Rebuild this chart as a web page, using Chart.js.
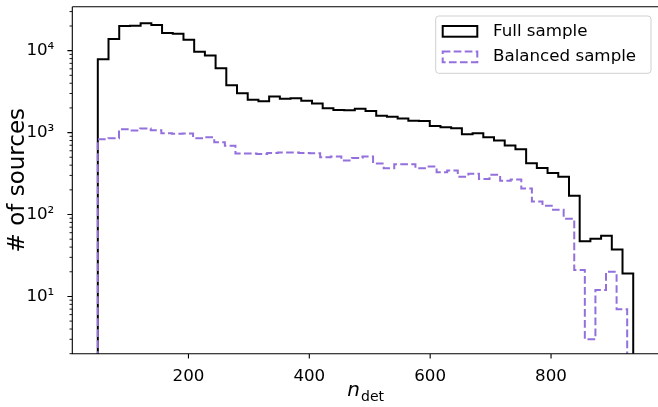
<!DOCTYPE html>
<html><head><meta charset="utf-8">
<script src="https://cdn.jsdelivr.net/npm/chart.js@4.4.0/dist/chart.umd.min.js"></script>
<style>html,body{margin:0;padding:0;background:#fff}#wrap{width:658px;height:407px;position:relative}</style>
</head><body><div id="wrap"><canvas id="c"></canvas></div>
<script>
// ---- data ----
const fullCounts = [7850, 13900, 20000, 20200, 21600, 20500, 16400, 16100, 13600, 9700,
  8700, 6100, 3780, 3020, 2520, 2410, 2750, 2580, 2620, 2440,
  2260, 1980, 1880, 1870, 1950, 1840, 1610, 1560, 1490, 1390,
  1380, 1200, 1163, 1130, 955, 980, 879, 799, 694, 627,
  423, 370, 322, 288, 169, 47, 50.6, 55, 37.5, 19];
const balancedCounts = [831, 855, 1100, 1060, 1120, 1070, 983, 965, 975, 855,
  880, 763, 689, 555, 555, 548, 565, 570, 570, 565,
  560, 501, 510, 456, 488, 510, 419, 368, 412, 412,
  368, 385, 329, 344, 290, 314, 272, 305, 258, 267,
  208, 144, 128, 114, 89, 21, 3, 12, 20, 7];
const fullBinRange = [50, 936];
const balancedBinRange = [50, 926];
const seriesLabels = ['Full sample', 'Balanced sample'];
const xTickValues = [200, 400, 600, 800];
const yTickValues = [10, 100, 1000, 10000];
const yAxisTitle = '# of sources';
const xAxisTitleMain = 'n';
const xAxisTitleSub = 'det';

const FONT = 'DejaVu Sans';
const COLORS = ['#000000', '#9370DB'];

function stepPoints(counts, range, floor) {
  const n = counts.length, w = (range[1] - range[0]) / n;
  const pts = [{x: range[0], y: floor}];
  counts.forEach((c, i) => {
    pts.push({x: range[0] + i * w, y: c});
    pts.push({x: range[0] + (i + 1) * w, y: c});
  });
  pts.push({x: range[1], y: floor});
  return pts;
}
const SUP = {'0':'⁰','1':'¹','2':'²','3':'³','4':'⁴','5':'⁵'};
function powLabel(v) {
  const e = String(Math.round(Math.log10(v)));
  return '10' + e.split('').map(ch => SUP[ch]).join('');
}

const framePlugin = {
  id: 'frame',
  afterDraw(chart) {
    const {ctx, chartArea: a, scales: {x, y}} = chart;
    ctx.save();
    ctx.strokeStyle = '#000';
    ctx.lineWidth = 1.1;
    ctx.beginPath();
    ctx.moveTo(a.left, a.top); ctx.lineTo(a.left, a.bottom); ctx.lineTo(a.right + 2, a.bottom);
    ctx.moveTo(a.left, a.top); ctx.lineTo(a.right + 2, a.top);
    xTickValues.forEach(v => { const p = x.getPixelForValue(v); ctx.moveTo(p, a.bottom); ctx.lineTo(p, a.bottom + 4.9); });
    yTickValues.forEach(v => { const p = y.getPixelForValue(v); ctx.moveTo(a.left, p); ctx.lineTo(a.left - 4.9, p); });
    ctx.stroke();
    ctx.lineWidth = 0.9;
    ctx.beginPath();
    for (let d = 0; d <= 4; d++) {
      for (let m = 2; m <= 9; m++) {
        const v = m * Math.pow(10, d);
        if (v < y.min || v > y.max) continue;
        const p = y.getPixelForValue(v);
        ctx.moveTo(a.left, p); ctx.lineTo(a.left - 2.8, p);
      }
    }
    ctx.stroke();

    // axis titles
    ctx.fillStyle = '#000';
    ctx.save();
    ctx.translate(18, (a.top + a.bottom) / 2);
    ctx.rotate(-Math.PI / 2);
    ctx.textAlign = 'center';
    ctx.textBaseline = 'middle';
    ctx.font = '23px "' + FONT + '"';
    ctx.fillText(yAxisTitle, 0, 0);
    ctx.restore();

    ctx.textAlign = 'left';
    ctx.textBaseline = 'alphabetic';
    ctx.font = 'italic 20px "' + FONT + '"';
    const wn = ctx.measureText(xAxisTitleMain).width;
    ctx.font = '14px "' + FONT + '"';
    const wd = ctx.measureText(xAxisTitleSub).width;
    const x0 = (a.left + a.right) / 2 - (wn + wd) / 2;
    ctx.font = 'italic 20px "' + FONT + '"';
    ctx.fillText(xAxisTitleMain, x0, 396);
    ctx.font = '14px "' + FONT + '"';
    ctx.fillText(xAxisTitleSub, x0 + wn + 1, 401);

    // legend
    const L = {x: 435.7, y: 16, w: 215.3, h: 57.3};
    ctx.beginPath();
    ctx.roundRect(L.x, L.y, L.w, L.h, 3);
    ctx.fillStyle = 'rgba(255,255,255,0.8)';
    ctx.fill();
    ctx.strokeStyle = '#d0d0d0';
    ctx.lineWidth = 1;
    ctx.stroke();
    const ds = chart.data.datasets;
    const rows = [25, 50.5];
    ds.forEach((d, i) => {
      ctx.save();
      ctx.strokeStyle = d.borderColor;
      ctx.lineWidth = 2;
      ctx.setLineDash(d.borderDash || []);
      ctx.strokeRect(442.7, rows[i] + 1, 34.6, 10.7);
      ctx.restore();
      ctx.fillStyle = '#000';
      ctx.font = '16.7px "' + FONT + '"';
      ctx.textBaseline = 'middle';
      ctx.fillText(d.label, 493, rows[i] + 6.5);
    });
    ctx.restore();
  }
};

new Chart(document.getElementById('c'), {
  type: 'line',
  data: {
    datasets: [
      {label: seriesLabels[0], data: stepPoints(fullCounts, fullBinRange, 0.5),
       borderColor: COLORS[0], borderWidth: 2, pointRadius: 0, fill: false, tension: 0, order: 2},
      {label: seriesLabels[1], data: stepPoints(balancedCounts, balancedBinRange, 0.5),
       borderColor: COLORS[1], borderWidth: 2, borderDash: [7.7, 3.3], pointRadius: 0, fill: false, tension: 0, order: 1}
    ]
  },
  options: {
    responsive: true, maintainAspectRatio: false, devicePixelRatio: 1,
    animation: false, events: [],
    layout: {padding: {top: 6.7, right: 0, left: 0, bottom: 0}},
    plugins: {legend: {display: false}, tooltip: {enabled: false}},
    scales: {
      x: {
        type: 'linear', min: 7.8, max: 977,
        grid: {display: false}, border: {display: false},
        afterBuildTicks: s => { s.ticks = xTickValues.map(v => ({value: v})); },
        afterFit: s => { s.height = 53.3; s.paddingLeft = 0; s.paddingRight = 0; },
        ticks: {font: {family: FONT, size: 16.7}, color: '#000', padding: 5, maxRotation: 0,
                callback: v => String(v)}
      },
      y: {
        type: 'logarithmic', min: 2, max: 34400,
        grid: {display: false}, border: {display: false},
        afterBuildTicks: s => { s.ticks = yTickValues.map(v => ({value: v})); },
        afterFit: s => { s.width = 72.3; s.paddingTop = 0; s.paddingBottom = 0; },
        ticks: {font: {family: FONT, size: 16.7}, color: '#000', padding: 10,
                callback: v => powLabel(v)}
      }
    }
  },
  plugins: [framePlugin]
});
</script>
</body></html>
